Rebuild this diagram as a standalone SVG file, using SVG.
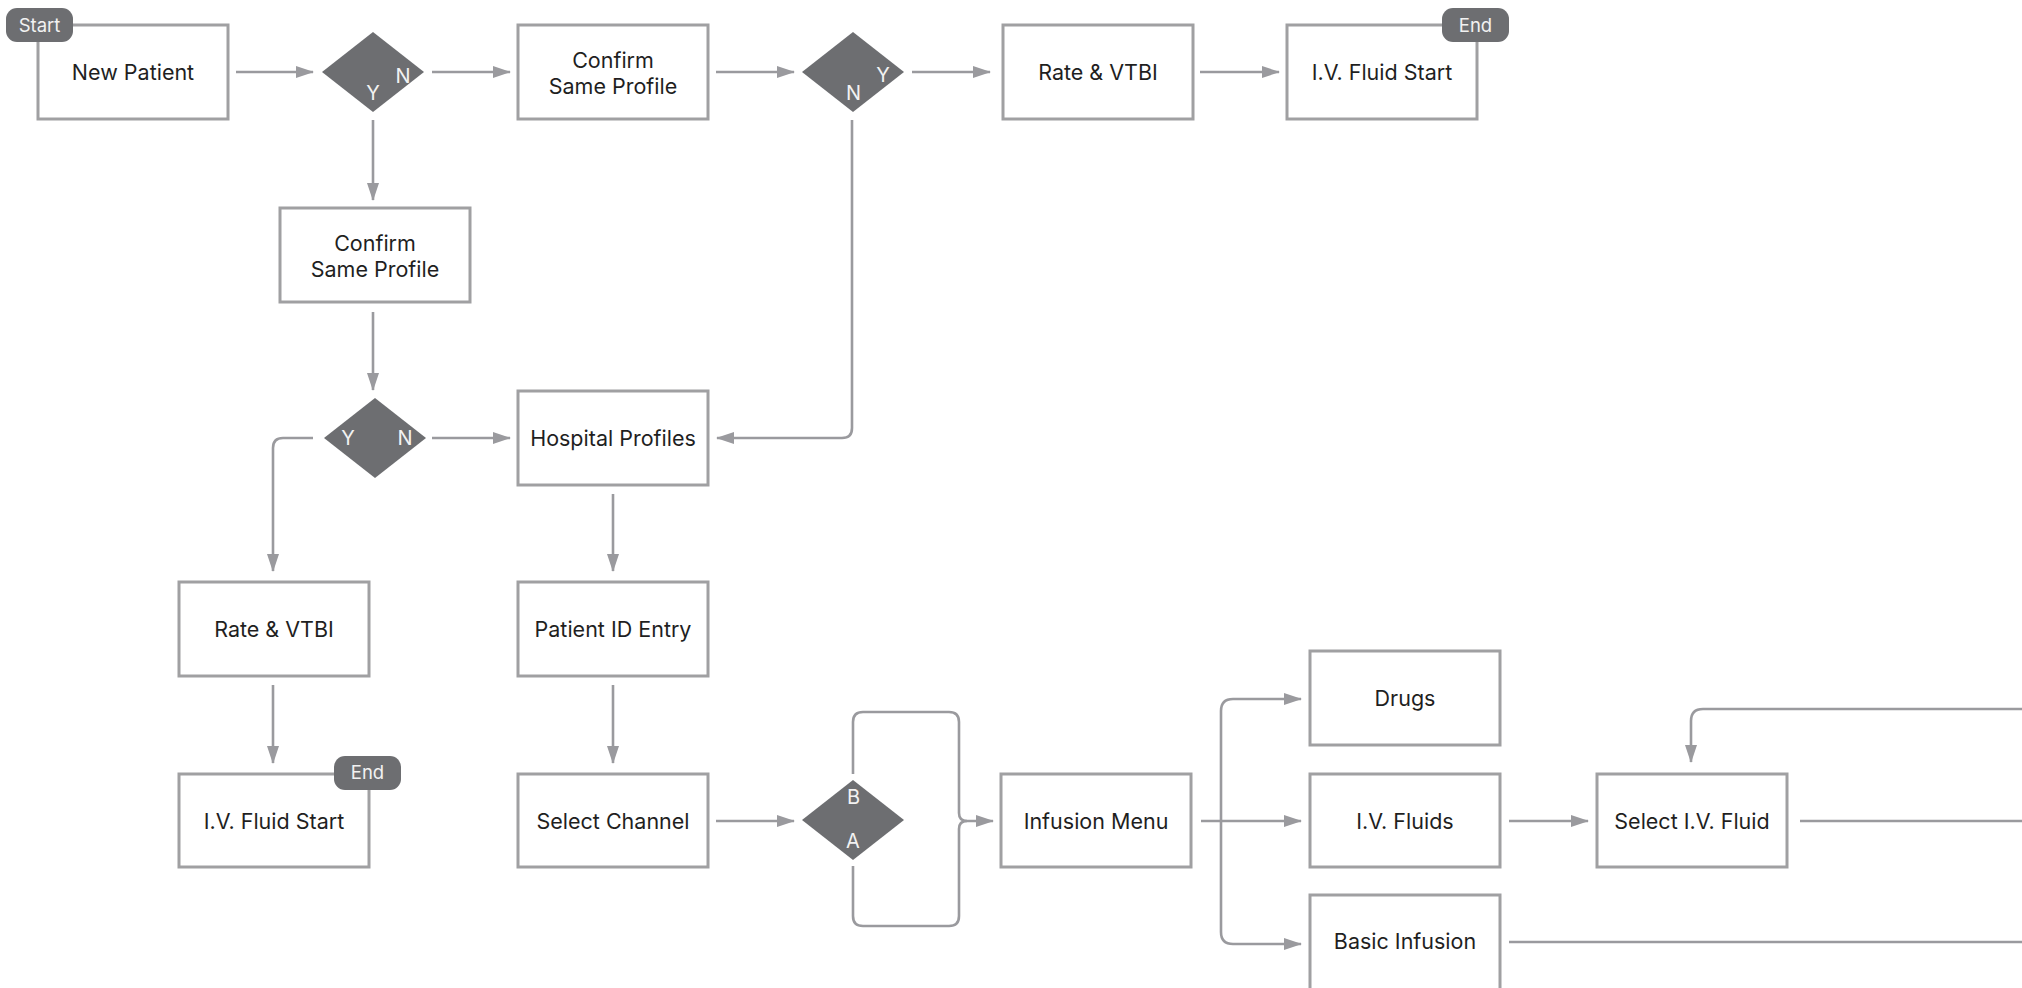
<svg xmlns="http://www.w3.org/2000/svg" width="2022" height="988" viewBox="0 0 2022 988">
  <defs>
    <style>
      .box { fill: #ffffff; stroke: #a0a0a2; stroke-width: 3; }
      .dia { fill: #6d6e71; }
      .pill { fill: #6d6e71; }
      .t { font-family: Inter, "Liberation Sans", sans-serif; font-size: 21.5px; fill: #1f1f1f; text-anchor: middle; }
      .lbl { font-family: Inter, "Liberation Sans", sans-serif; font-size: 20px; fill: #f2f2f2; text-anchor: middle; }
      .pt { font-family: Inter, "Liberation Sans", sans-serif; font-size: 18.5px; fill: #f2f2f2; text-anchor: middle; }
      .c { fill: none; stroke: #9a9a9e; stroke-width: 2.6; }
      .ca { fill: none; stroke: #9a9a9e; stroke-width: 2.6; marker-end: url(#arrow); }
    </style>
    <marker id="arrow" markerUnits="userSpaceOnUse" markerWidth="18" markerHeight="12" refX="17" refY="6" orient="auto">
      <path d="M0,0 L18,6 L0,12 z" fill="#9a9a9e"/>
    </marker>
  </defs>

  <rect width="2022" height="988" fill="#ffffff"/>

  <!-- connectors -->
  <g id="connectors">
    <path class="ca" d="M236 72 H313"/>
    <path class="ca" d="M432 72 H510"/>
    <path class="ca" d="M373 120 V200"/>
    <path class="ca" d="M716 72 H794"/>
    <path class="ca" d="M912 72 H990"/>
    <path class="ca" d="M1200 72 H1279"/>
    <path class="ca" d="M852 120 V428 Q852 438 842 438 H717"/>
    <path class="ca" d="M373 312 V390"/>
    <path class="ca" d="M432 438 H510"/>
    <path class="ca" d="M313 438 H283 Q273 438 273 448 V571"/>
    <path class="ca" d="M613 494 V571"/>
    <path class="ca" d="M273 685 V763"/>
    <path class="ca" d="M613 685 V763"/>
    <path class="ca" d="M716 821 H794"/>
    <!-- A / B channel brace into the infusion menu -->
    <path class="ca" d="M853 774 V722 Q853 712 863 712 H949 Q959 712 959 722 V813 Q959 821 967 821 H993"/>
    <path class="c" d="M853 866 V916 Q853 926 863 926 H949 Q959 926 959 916 V829 Q959 821 967 821"/>
    <!-- infusion menu branches -->
    <path class="ca" d="M1201 821 H1301"/>
    <path class="ca" d="M1221 821 V711 Q1221 699 1233 699 H1301"/>
    <path class="ca" d="M1221 821 V932 Q1221 944 1233 944 H1301"/>
    <path class="ca" d="M1509 821 H1588"/>
    <path class="c" d="M1800 821 H2022"/>
    <path class="c" d="M1509 942 H2022"/>
    <path class="ca" d="M2022 709 H1703 Q1691 709 1691 721 V762"/>
  </g>

  <!-- nodes -->
  <g id="new-patient">
    <rect class="box" x="38" y="25" width="190" height="94"/>
    <text class="t" x="133" y="80">New Patient</text>
  </g>
  <g id="start">
    <rect class="pill" x="6" y="8" width="67" height="34" rx="11"/>
    <text class="pt" x="39.5" y="32">Start</text>
  </g>
  <g id="decision-1">
    <polygon class="dia" points="373,32 424,72 373,112 322,72"/>
    <text class="lbl" x="403" y="83">N</text>
    <text class="lbl" x="373" y="100">Y</text>
  </g>
  <g id="confirm-1">
    <rect class="box" x="518" y="25" width="190" height="94"/>
    <text class="t" x="613" y="68">Confirm</text>
    <text class="t" x="613" y="94">Same Profile</text>
  </g>
  <g id="decision-2">
    <polygon class="dia" points="853,32 904,72 853,112 802,72"/>
    <text class="lbl" x="883" y="82">Y</text>
    <text class="lbl" x="853.5" y="100">N</text>
  </g>
  <g id="rate-vtbi-1">
    <rect class="box" x="1003" y="25" width="190" height="94"/>
    <text class="t" x="1098" y="80">Rate &amp; VTBI</text>
  </g>
  <g id="iv-fluid-start-1">
    <rect class="box" x="1287" y="25" width="190" height="94"/>
    <text class="t" x="1382" y="80">I.V. Fluid Start</text>
  </g>
  <g id="end-1">
    <rect class="pill" x="1442" y="8" width="67" height="34" rx="11"/>
    <text class="pt" x="1475.5" y="32">End</text>
  </g>
  <g id="confirm-2">
    <rect class="box" x="280" y="208" width="190" height="94"/>
    <text class="t" x="375" y="251">Confirm</text>
    <text class="t" x="375" y="277">Same Profile</text>
  </g>
  <g id="decision-3">
    <polygon class="dia" points="375,398 426,438 375,478 324,438"/>
    <text class="lbl" x="348" y="445">Y</text>
    <text class="lbl" x="405" y="445">N</text>
  </g>
  <g id="hospital-profiles">
    <rect class="box" x="518" y="391" width="190" height="94"/>
    <text class="t" x="613" y="446">Hospital Profiles</text>
  </g>
  <g id="rate-vtbi-2">
    <rect class="box" x="179" y="582" width="190" height="94"/>
    <text class="t" x="274" y="637">Rate &amp; VTBI</text>
  </g>
  <g id="patient-id-entry">
    <rect class="box" x="518" y="582" width="190" height="94"/>
    <text class="t" x="613" y="637">Patient ID Entry</text>
  </g>
  <g id="iv-fluid-start-2">
    <rect class="box" x="179" y="774" width="190" height="93"/>
    <text class="t" x="274" y="829">I.V. Fluid Start</text>
  </g>
  <g id="end-2">
    <rect class="pill" x="334" y="756" width="67" height="34" rx="11"/>
    <text class="pt" x="367.5" y="779">End</text>
  </g>
  <g id="select-channel">
    <rect class="box" x="518" y="774" width="190" height="93"/>
    <text class="t" x="613" y="829">Select Channel</text>
  </g>
  <g id="decision-4">
    <polygon class="dia" points="853,780 904,820 853,860 802,820"/>
    <text class="lbl" x="853.5" y="804">B</text>
    <text class="lbl" x="853" y="848">A</text>
  </g>
  <g id="infusion-menu">
    <rect class="box" x="1001" y="774" width="190" height="93"/>
    <text class="t" x="1096" y="829">Infusion Menu</text>
  </g>
  <g id="drugs">
    <rect class="box" x="1310" y="651" width="190" height="94"/>
    <text class="t" x="1405" y="706">Drugs</text>
  </g>
  <g id="iv-fluids">
    <rect class="box" x="1310" y="774" width="190" height="93"/>
    <text class="t" x="1405" y="829">I.V. Fluids</text>
  </g>
  <g id="basic-infusion">
    <rect class="box" x="1310" y="895" width="190" height="96"/>
    <text class="t" x="1405" y="949">Basic Infusion</text>
  </g>
  <g id="select-iv-fluid">
    <rect class="box" x="1597" y="774" width="190" height="93"/>
    <text class="t" x="1692" y="829">Select I.V. Fluid</text>
  </g>
</svg>
